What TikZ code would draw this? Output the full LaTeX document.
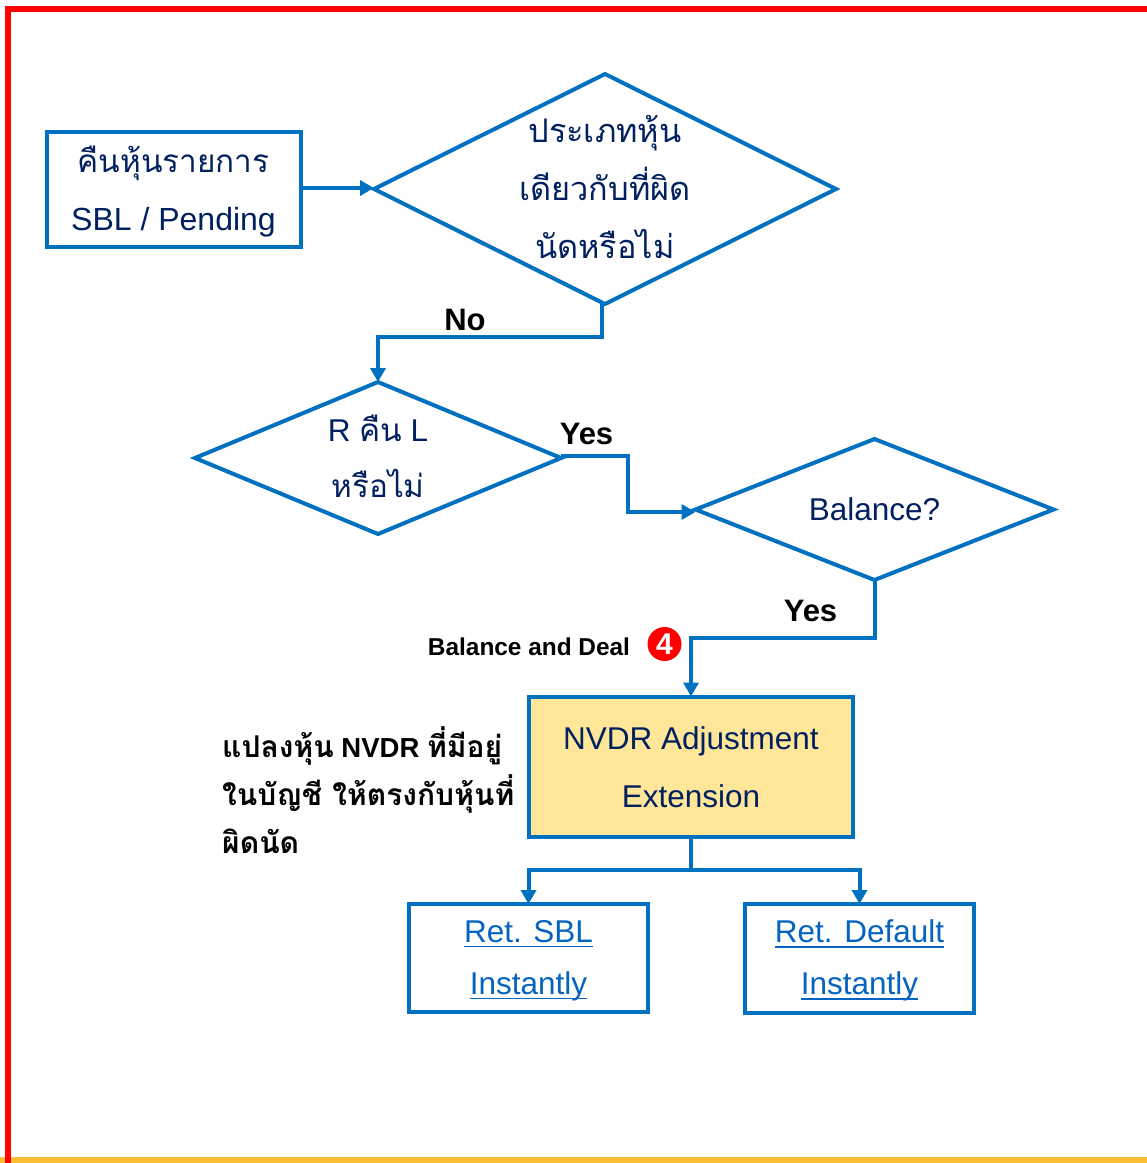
\documentclass[tikz,border=0pt]{standalone}
\usepackage{fontspec}
\setmainfont{Liberation Sans}
\newfontfamily\thaifont[Script=Thai]{Loma}
\usetikzlibrary{shapes.geometric,arrows.meta}
\definecolor{lineblue}{HTML}{0070C0}
\definecolor{textblue}{HTML}{002060}
\definecolor{linkblue}{HTML}{0563C1}
\definecolor{boxyellow}{HTML}{FFE699}
\definecolor{bandyellow}{HTML}{F9BE33}
\newsavebox{\linkbox}
\newcommand{\linkline}[1]{\sbox{\linkbox}{#1}\rlap{\raisebox{-5pt}{\rule{\wd\linkbox}{1.6pt}}}\usebox{\linkbox}}
\newcommand{\thb}[2][31.5]{{\fontsize{#1}{58}\selectfont\thaifont #2}}
\newcommand{\thk}[1]{{\fontsize{30}{48}\selectfont\thaifont\bfseries #1}}
\newcommand{\mvtext}[2]{\vbox to 0pt{\vss\hbox{\begin{tabular}{@{}c@{}}#2\end{tabular}}\vskip #1\vss}}
\tikzset{
  x=1pt,y=-1pt,
  flowbase/.style={draw=lineblue,line width=4pt,text=textblue,inner sep=0pt,outer sep=0pt,font=\fontsize{31.5}{58}\selectfont},
  flowbox/.style={flowbase,rectangle,fill=white},
  decision/.style={flowbase,diamond,aspect=2,fill=white},
  conn/.style={draw=lineblue,line width=4pt,-{Triangle[length=14pt,width=15pt]}},
  connplain/.style={draw=lineblue,line width=4pt},
  boldlabel/.style={font=\bfseries\fontsize{31}{36}\selectfont,text=black,inner sep=0pt},
  linktext/.style={text=linkblue,font=\fontsize{31.5}{52}\selectfont},
}
\begin{document}
\begin{tikzpicture}
\useasboundingbox (0,0) rectangle (1147,1163);
\fill[bandyellow] (0,1157) rectangle (1147,1163);
\draw[red,line width=6pt] (8,1163) -- (8,9) -- (1147,9);

\node[flowbox,minimum width=254pt,minimum height=115.5pt] (start) at (173.5,189.7) {\mvtext{0pt}{\thb{คืนหุ้นรายการ}\\{\fontsize{32}{58}\selectfont SBL / Pending}}};
\node[decision,minimum width=462pt,minimum height=230pt] (d1) at (605,189) {\mvtext{0pt}{\thb[32.5]{ประเภทหุ้น}\\\thb[32.5]{เดียวกับที่ผิด}\\\thb[32.5]{นัดหรือไม่}}};
\node[decision,minimum width=366pt,minimum height=152pt] (d2) at (378,458) {\mvtext{0pt}{R \thb{คืน} L\\[-2pt]\thb{หรือไม่}}};
\node[decision,minimum width=358pt,minimum height=141pt] (d3) at (874.5,509.5) {Balance?};
\node[flowbox,fill=boxyellow,minimum width=324pt,minimum height=140pt] (nvdr) at (691,766.5) {\mvtext{0pt}{NVDR Adjustment\\Extension}};
\node[flowbox,linktext,minimum width=239pt,minimum height=108pt] (sbl) at (528.5,958) {\mvtext{0pt}{\linkline{Ret. SBL}\\\linkline{Instantly}}};
\node[flowbox,linktext,minimum width=229pt,minimum height=109pt] (def) at (859.5,958.5) {\mvtext{0pt}{\linkline{Ret. Default}\\\linkline{Instantly}}};

\coordinate (j1) at (602,337);
\coordinate (j2) at (628,456);
\coordinate (j3) at (628,512);
\coordinate (j4) at (874.5,638);
\coordinate (j5) at (691,638);
\coordinate (j6) at (691,870);

\draw[conn] ([yshift=1.7pt]start.east) -- ([yshift=1pt]d1.west);
\draw[conn] ([xshift=-3pt]d1.south) -- (j1) -| (d2.north);
\draw[conn] ([yshift=2pt]d2.east) -- (j2) -- (j3) -- ([yshift=-2.5pt]d3.west);
\draw[conn] (d3.south) -- (j4) -- (j5) -- (nvdr.north);
\draw[connplain] (nvdr.south) -- (j6);
\draw[conn] (j6) -| (sbl.north);
\draw[conn] (j6) -| (def.north);

\node[boldlabel] (no) at (465,320) {No};
\node[boldlabel] (yes1) at (586.5,434) {Yes};
\node[boldlabel] (yes2) at (810.5,611) {Yes};
\node[boldlabel,font=\bfseries\fontsize{24.4}{28}\selectfont] (bd) at (529,647) {Balance and Deal};
\node[circle,fill=red,minimum size=34pt,inner sep=0pt,text=white,font=\bfseries\fontsize{30}{30}\selectfont] (four) at (664.5,644) {4};
\node[text=black,align=left,inner sep=0pt,anchor=west,font=\bfseries\fontsize{27.5}{48}\selectfont] (note) at (222,790) {\thk{แปลงหุ้น} NVDR \thk{ที่มีอยู่}\\\thk{ในบัญชี ให้ตรงกับหุ้นที่}\\\thk{ผิดนัด}};
\end{tikzpicture}
\end{document}
